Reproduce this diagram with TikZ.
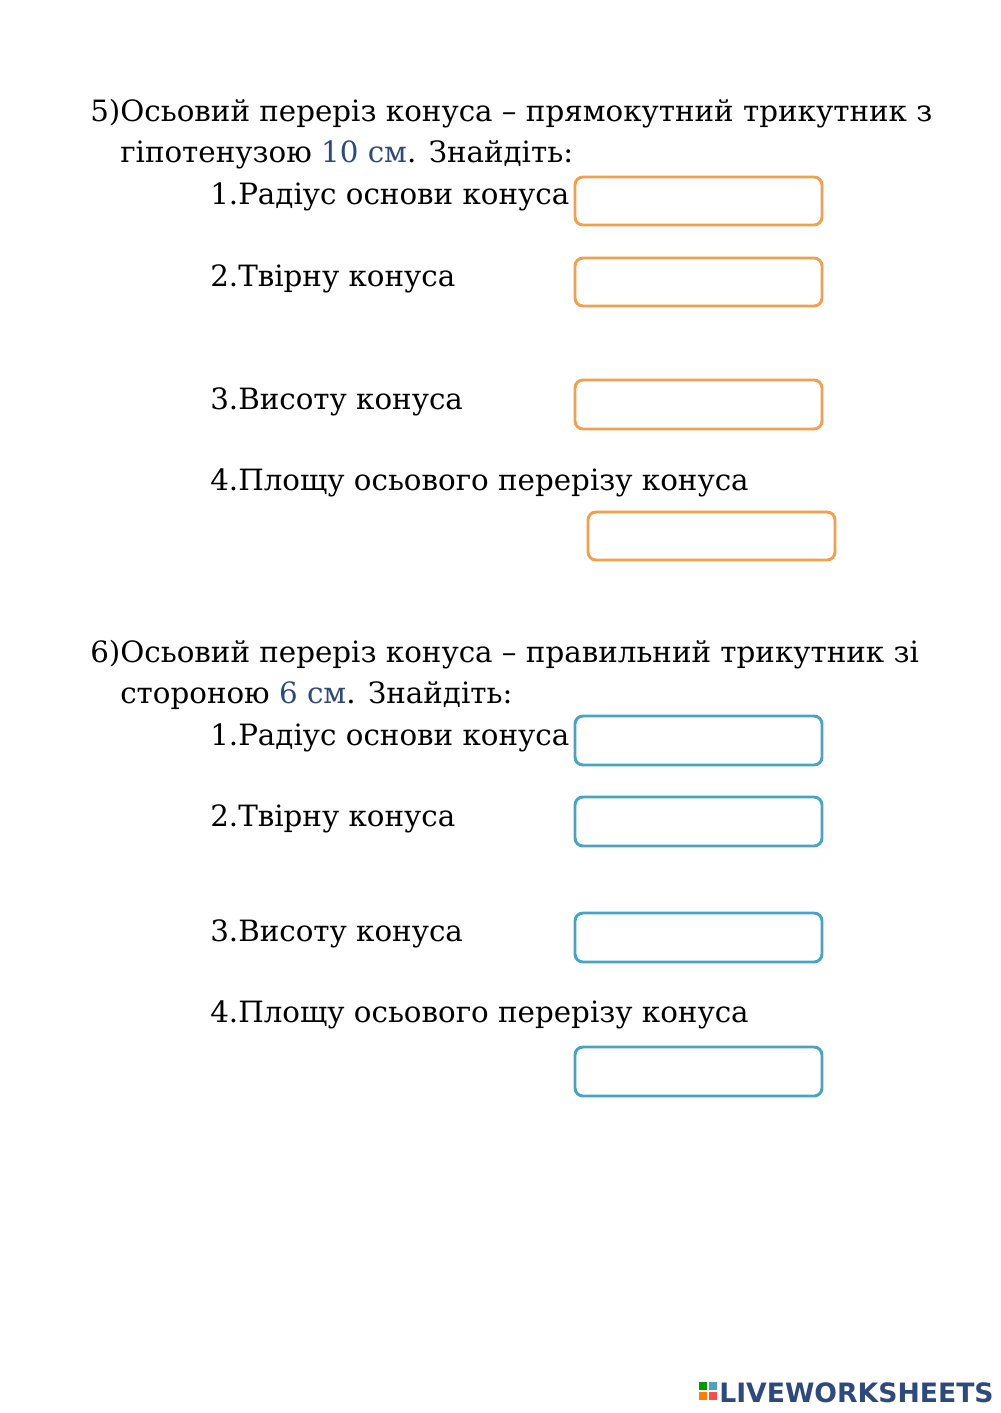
\documentclass[tikz,border=0pt]{standalone}
\usepackage{fontspec}
\setmainfont{DejaVu Serif}
\newfontfamily\logofont{DejaVu Sans}
\begin{document}
\begin{tikzpicture}[x=0.75pt,y=-0.75pt]
\definecolor{numc}{HTML}{2E4A7A}
\definecolor{orng}{HTML}{F0A050}
\definecolor{blu}{HTML}{4BA3C3}
\tikzset{txt/.style={anchor=base west,inner sep=0pt,font=\fontsize{22}{24}\selectfont},
  obox/.style={draw=orng,line width=2.2pt,rounded corners=6pt},
  bbox/.style={draw=blu,line width=2.2pt,rounded corners=6pt}}
\useasboundingbox (0,0) rectangle (1000,1413);
% section 5
\node[txt] (a1) at (90,122) {5)Осьовий переріз конуса – прямокутний трикутник з};
\node[txt] (a2) at (120,162) {гіпотенузою \textcolor{numc}{10 см}. Знайдіть:};
\node[txt] (a3) at (210,204) {1.Радіус основи конуса};
\node[txt] (a4) at (210,286) {2.Твірну конуса};
\node[txt] (a5) at (210,409) {3.Висоту конуса};
\node[txt] (a6) at (210,490) {4.Площу осьового перерізу конуса};
\draw[obox] (575,177) rectangle (822,225);
\draw[obox] (575,258) rectangle (822,306);
\draw[obox] (575,380) rectangle (822,429);
\draw[obox] (588,512) rectangle (835,560);
% section 6
\node[txt] (b1) at (90,662) {6)Осьовий переріз конуса – правильний трикутник зі};
\node[txt] (b2) at (120,703) {стороною \textcolor{numc}{6 см}. Знайдіть:};
\node[txt] (b3) at (210,745) {1.Радіус основи конуса};
\node[txt] (b4) at (210,826) {2.Твірну конуса};
\node[txt] (b5) at (210,941) {3.Висоту конуса};
\node[txt] (b6) at (210,1022) {4.Площу осьового перерізу конуса};
\draw[bbox] (575,716) rectangle (822,765);
\draw[bbox] (575,797) rectangle (822,846);
\draw[bbox] (575,913) rectangle (822,962);
\draw[bbox] (575,1047) rectangle (822,1096);
% logo
\fill[green!60!black] (699,1382) rectangle (707,1390);
\fill[orange] (699,1392) rectangle (707,1400);
\fill[blu] (709,1382) rectangle (717,1390);
\fill[red!70] (709,1392) rectangle (717,1400);
\node[anchor=base west,inner sep=0pt,font=\logofont\bfseries\fontsize{20}{21}\selectfont,text=numc] (logo) at (719,1402) {LIVEWORKSHEETS};
\end{tikzpicture}
\end{document}
